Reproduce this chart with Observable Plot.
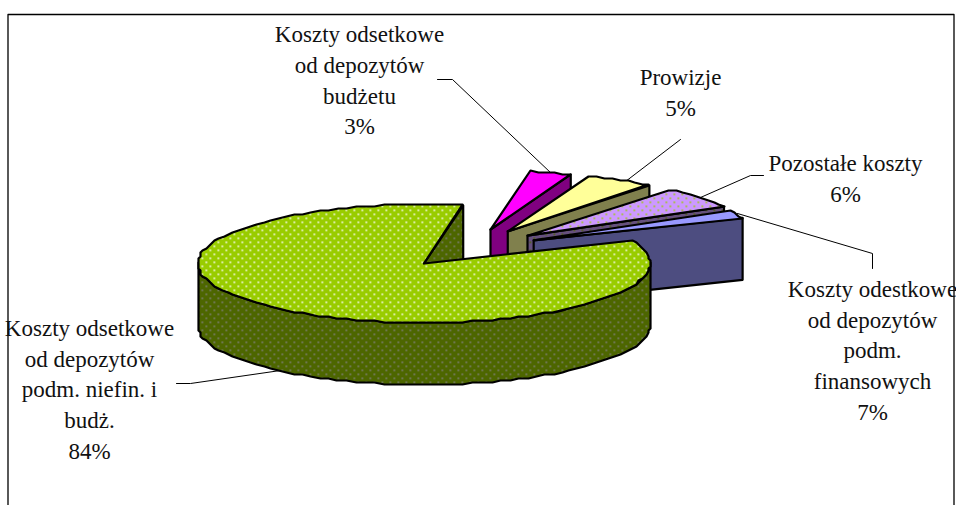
<!DOCTYPE html>
<html>
<head>
<meta charset="utf-8">
<script src="https://cdn.jsdelivr.net/npm/d3@7"></script>
<script src="https://cdn.jsdelivr.net/npm/@observablehq/plot@0.6"></script>
<style>html,body{margin:0;padding:0;background:#fff}svg{display:block}</style>
</head>
<body>
<div id="chart"></div>
<script>
// Data: order is clockwise, starting at the rear of the pie
const names = ["budżet", "prowizje", "pozostałe", "finansowe", "niefin"];
const drawnShares = [3, 5, 6, 2, 84]; // share of the circle as drawn
const labelTexts = [
  "Koszty odsetkowe\nod depozytów\nbudżetu\n3%",
  "Prowizje\n5%",
  "Pozostałe koszty\n6%",
  "Koszty odestkowe\nod depozytów\npodm.\nfinansowych\n7%",
  "Koszty odsetkowe\nod depozytów\npodm. niefin. i\nbudż.\n84%"
];
const topFills = ["#ff00ff", "#ffff99", "url(#dotsLilac)", "#9999ff", "url(#dotsGreen)"];
const wallFills = ["#800080", "#80804d", "url(#dotsPurple)", "#4d4d80", "url(#dotsOlive)"];
const explodes = [0.33, 0.33, 0.33, 0.31, 0.33];
const labelX = [359, 680, 845, 872, 89];
const labelY = [78, 90, 176, 348, 387];
const leaders = [
  [[437, 79], [452, 79], [551, 173]],
  [[625, 181], [680, 139]],
  [[700, 197], [750, 175], [763, 175]],
  [[737, 213], [872, 253], [872, 268]],
  [[280, 370], [190, 383], [176, 383]]
];
const frame = [[7.5, 505], [7.5, 14], [953.5, 14], [953.5, 505]];

// Pie geometry
const center = [470.2, 247.8], rx = 226, ry = 59, depth = 62, startDeg = 10, stepDeg = 2.5;
const rad = d => d * Math.PI / 180;
const total = d3.sum(drawnShares);
let acc = startDeg;
const slices = drawnShares.map((v, i) => {
  const a0 = acc, a1 = acc + v / total * 360; acc = a1;
  const mid = rad((a0 + a1) / 2);
  return {name: names[i], a0, a1, top: topFills[i], wall: wallFills[i],
    ax: center[0] + explodes[i] * rx * Math.sin(mid), ay: center[1] - explodes[i] * ry * Math.cos(mid)};
});
const rim = (s, t) => [s.ax + rx * Math.sin(rad(t)), s.ay - ry * Math.cos(rad(t))];
const snap = p => [Math.round(p[0] / 2) * 2, Math.round(p[1] / 2) * 2];
const arc = (s, a0, a1) => {
  const n = Math.max(1, Math.ceil((a1 - a0) / stepDeg));
  return d3.range(n + 1).map(i => snap(rim(s, a0 + (a1 - a0) * i / n)));
};
const down = p => [p[0], p[1] + depth];
const close = pts => [...pts, pts[0]];
const poly = (pts, fill) => Plot.line(close(pts), {x: d => d[0], y: d => d[1], fill, stroke: "#000", strokeWidth: 2.2, strokeLinejoin: "round", curve: "linear"});

const marks = [];
marks.push(() => {
  const defs = document.createElementNS("http://www.w3.org/2000/svg", "defs");
  const pats = [["dotsGreen", "#99cc00", "#ffffff"], ["dotsOlive", "#4d6600", "#808080"], ["dotsLilac", "#cc99ff", "#99cc00"], ["dotsPurple", "#66507f", "#4d6600"]];
  defs.innerHTML = pats.map(([id, bg, dot]) =>
    `<pattern id="${id}" width="8" height="8" patternUnits="userSpaceOnUse"><rect width="8" height="8" fill="${bg}"/><rect x="1" y="1" width="1.6" height="1.6" fill="${dot}"/><rect x="5" y="5" width="1.6" height="1.6" fill="${dot}"/></pattern>`).join("");
  return defs;
});
marks.push(Plot.line(frame, {x: d => d[0], y: d => d[1], stroke: "#000", strokeWidth: 1.3}));
leaders.forEach(l => marks.push(Plot.line(l, {x: d => d[0], y: d => d[1], stroke: "#000", strokeWidth: 1})));

slices.slice(0, 4).forEach(s => {
  const apex = [s.ax, s.ay], end = rim(s, s.a1);
  marks.push(poly([apex, end, down(end), down(apex)], s.wall));
  marks.push(poly([apex, ...arc(s, s.a0, s.a1)], s.top));
});
const big = slices[4];
const apexB = [big.ax, big.ay], endB = rim(big, big.a1);
marks.push(poly([apexB, endB, down(endB), down(apexB)], big.wall));
const frontArc = arc(big, 90, 270);
marks.push(poly([...frontArc, ...frontArc.slice().reverse().map(down)], big.wall));
marks.push(poly([apexB, ...arc(big, big.a0, big.a1)], big.top));

marks.push(Plot.text(labelTexts, {
  x: (d, i) => labelX[i], y: (d, i) => labelY[i], text: d => d,
  fontFamily: "Liberation Serif", fontSize: 23, lineHeight: 1.335, fill: "#111", textAnchor: "middle"
}));

const plot = Plot.plot({
  width: 956, height: 505, margin: 0,
  x: {domain: [0, 956], range: [0, 956], axis: null},
  y: {domain: [0, 505], range: [0, 505], axis: null},
  style: {background: "#fff"},
  marks
});
document.getElementById("chart").append(plot);
</script>
</body>
</html>
